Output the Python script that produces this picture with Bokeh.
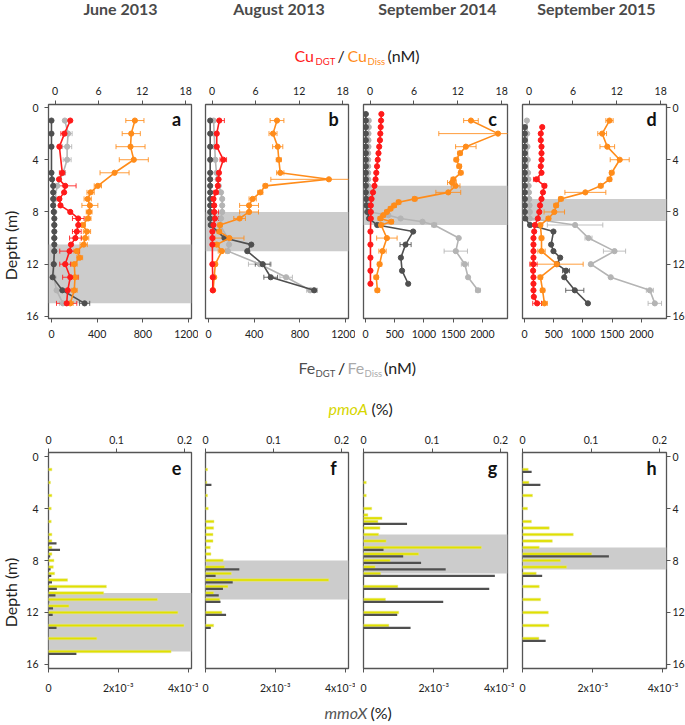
from math import pi
from bokeh.plotting import figure
from bokeh.models import (Range1d, LinearAxis, FixedTicker, BoxAnnotation, Whisker,
                          TeeHead, ColumnDataSource, Label)
from bokeh.layouts import row, column
from bokeh.embed import file_html
from bokeh.resources import INLINE
from bokeh.core.properties import value

# ---------------- data ----------------
YEARS = ["June 2013", "August 2013", "September 2014", "September 2015"]
LETTERS_TOP = ["a", "b", "c", "d"]
LETTERS_BOT = ["e", "f", "g", "h"]
CU_TICKS = [0, 6, 12, 18]
FE_TICKS = [[0, 400, 800, 1200], [0, 400, 800, 1200],
            [0, 500, 1000, 1500, 2000], [0, 500, 1000, 1500, 2000]]
DEPTH_TICKS = [0, 4, 8, 12, 16]
PMOA_TICKS = [0, 0.1, 0.2]
PMOA_LABELS = ["0", "0.1", "0.2"]
MMOX_TICKS = [0, 0.002, 0.004]
MMOX_LABELS = ["0", "2x10\u207b\u00b3", "4x10\u207b\u00b3"]
SHADE_TOP = [10.5, 8.0, 6.0, 7.0]
SHADE_BOTTOM = [15.0, 11.0, 9.0, 8.7]

# panel a (June 2013)
A_CU_DGT_D = [1, 2, 3, 5, 5.5, 6, 6.5, 7, 7.5, 8, 8.5, 9, 9.5, 10, 10.5, 11, 12, 13, 14, 15]
A_CU_DGT = [2.1, 1.3, 0.6, 1.0, 0.55, 1.4, 1.25, 0.6, 0.75, 2.1, 3.2, 3.2, 3.0, 2.8, 2.2, 2.0, 1.4, 2.1, 1.75, 1.6]
A_CU_DGT_E = [0, 0.5, 0, 0.4, 0, 1.5, 0, 0, 0, 0, 0.8, 0, 0.6, 0.8, 0, 1.35, 0.75, 1.05, 0, 1.4]
A_CU_DISS_D = [1, 2, 3, 4, 5, 6, 6.5, 7, 7.5, 8, 8.5, 9, 9.5, 10, 10.5, 11, 11.5, 12, 13, 14, 15]
A_CU_DISS = [11.0, 10.5, 10.4, 10.85, 8.2, 5.9, 4.9, 4.5, 4.8, 4.7, 4.55, 3.8, 4.4, 4.15, 3.95, 3.0, 3.4, 2.65, 2.75, 2.65, 2.1]
A_CU_DISS_E = [1.25, 1.25, 2.0, 2.0, 2.0, 0.5, 0.5, 0.5, 1.1, 0.4, 0.4, 0.4, 0.5, 0.5, 0.5, 0.4, 0.4, 0.4, 0.5, 0.4, 0.4]
A_FE_DGT_D = [1, 2, 3, 5, 5.5, 6, 6.5, 7, 7.5, 8, 8.5, 9, 9.5, 10, 10.5, 11, 12, 13, 14, 15]
A_FE_DGT = [0, 0, 0, 0, 5, 15, 15, 15, 15, 20, 25, 25, 25, 25, 25, 25, 20, 10, 95, 290]
A_FE_DGT_E = [0, 0, 0, 0, 0, 0, 0, 0, 0, 0, 0, 0, 0, 0, 0, 0, 0, 0, 0, 45]
A_FE_DISS_D = [1, 2, 3, 4, 5, 6, 7, 8, 9, 10, 11, 12, 13, 14, 15]
A_FE_DISS = [117, 146, 137, 137, 102, 50, 30, 25, 25, 25, 25, 20, 20, 45, 100]
A_FE_DISS_E = [0, 35, 40, 35, 0, 0, 0, 0, 0, 0, 0, 0, 0, 0, 30]

# panel b (August 2013)
B_CU_DGT_D = [1, 2, 3, 4, 5, 5.5, 6, 6.5, 7, 7.5, 8, 8.5, 9, 9.5, 10, 10.5, 12, 13, 14]
B_CU_DGT = [1.0, 0.65, 0.65, 1.55, 0.95, 0.9, 0.8, 0.55, 0.2, 0.3, 0.3, 0.4, 0.2, 0.05, 0.05, 0.05, 0.05, 0.1, 0.1]
B_CU_DGT_E = [0.7, 0, 0, 0.45, 0, 0, 0, 0.3, 0, 0, 0.6, 0.5, 0, 0, 0, 0, 0, 0, 0]
B_CU_DISS_D = [1, 2, 3, 4, 5, 5.5, 6, 6.5, 7, 7.5, 8, 8.5, 9, 9.5, 10, 10.5, 11, 12, 13, 14]
B_CU_DISS = [8.95, 8.4, 9.05, 9.2, 9.4, 16.1, 7.35, 6.65, 5.6, 5.1, 5.1, 3.8, 1.1, 1.0, 2.4, 0.65, 1.35, 0.45, 0.3, 0.15]
B_CU_DISS_E = [0.95, 0.55, 0.7, 0.35, 0.5, 8.0, 0.3, 0.35, 0.5, 1.3, 1.3, 0.8, 0.3, 0.3, 2.0, 0.3, 0.5, 0.2, 0.2, 0.2]
B_FE_DGT_D = [1, 2, 3, 4, 5, 5.5, 6, 6.5, 7, 7.5, 8, 8.5, 9, 10, 10.5, 11, 12, 13, 14]
B_FE_DGT = [15, 15, 15, 15, 15, 15, 15, 15, 15, 15, 15, 15, 20, 140, 375, 340, 475, 545, 925]
B_FE_DGT_E = [0, 0, 0, 0, 0, 0, 0, 0, 0, 0, 0, 0, 0, 0, 0, 0, 65, 60, 25]
B_FE_DISS_D = [1, 2, 3, 4, 5, 5.5, 6, 6.5, 7, 7.5, 8, 8.5, 9, 10, 10.5, 11, 12, 13, 14]
B_FE_DISS = [45, 50, 55, 60, 70, 80, 90, 110, 120, 120, 120, 110, 100, 170, 180, 170, 450, 680, 890]
B_FE_DISS_E = [0, 0, 0, 0, 0, 0, 0, 0, 0, 0, 0, 0, 0, 0, 0, 0, 100, 55, 30]

# panel c (September 2014)
C_CU_DGT_D = [0.5, 1, 1.5, 2, 2.5, 3, 3.5, 4, 4.5, 5, 5.5, 6, 6.5, 7, 7.5, 8, 8.5, 9.5, 10.5, 11.5, 12.5, 13.5]
C_CU_DGT = [1.55, 1.5, 1.45, 1.4, 1.35, 1.25, 1.15, 1.05, 0.95, 0.85, 0.75, 0.6, 0.4, 0.2, 0.1, 0.1, 0.1, 0.05, 0.05, 0.05, 0.05, 0.05]
C_CU_DGT_E = [0] * 22
C_CU_DISS_D = [1, 2, 3, 3.5, 4, 4.5, 5, 5.5, 5.75, 6, 6.5, 7, 7.25, 7.5, 7.75, 8, 8.25, 8.5, 8.75, 9, 10, 11, 12, 13, 14]
C_CU_DISS = [13.8, 17.5, 13.1, 12.3, 11.8, 12.2, 12.4, 11.4, 11.2, 11.7, 10.7, 6.1, 3.9, 3.3, 2.8, 2.3, 1.8, 1.4, 2.9, 1.5, 2.3, 1.7, 1.3, 0.85, 1.0]
C_CU_DISS_E = [1.0, 8.1, 1.4, 0.3, 0.3, 0.3, 0.3, 0.3, 0.6, 0.6, 1.7, 0.3, 0.3, 0.3, 0.3, 0.3, 0.3, 0.3, 0.3, 0.3, 1.4, 0.5, 0.3, 0.3, 0.3]
C_FE_DGT_D = [0.5, 1, 1.5, 2, 2.5, 3, 3.5, 4, 4.5, 5, 5.5, 6, 6.5, 7, 7.5, 8, 8.5, 9, 9.5, 10.5, 11.5, 12.5, 13.5]
C_FE_DGT = [5, 5, 5, 5, 5, 5, 5, 5, 5, 5, 5, 5, 5, 10, 15, 30, 60, 200, 815, 685, 605, 625, 730]
C_FE_DGT_E = [0, 0, 0, 0, 0, 0, 0, 0, 0, 0, 0, 0, 0, 0, 0, 0, 0, 0, 0, 95, 0, 0, 0]
C_FE_DISS_D = [1, 1.5, 2, 2.5, 3, 3.5, 4, 4.5, 5, 5.5, 6, 6.5, 7, 7.5, 8, 8.25, 8.5, 8.75, 9, 10, 11, 12, 13, 14]
C_FE_DISS = [55, 55, 50, 50, 50, 45, 45, 45, 45, 45, 45, 45, 45, 50, 80, 390, 600, 975, 1175, 1595, 1545, 1700, 1755, 1925]
C_FE_DISS_E = [0, 0, 0, 0, 0, 0, 0, 0, 0, 0, 0, 0, 0, 0, 0, 0, 0, 0, 40, 0, 200, 60, 0, 40]

# panel d (September 2015)
D_CU_DGT_D = [1.5, 2, 2.5, 3, 3.5, 4, 4.5, 5, 5.5, 6, 6.5, 7, 7.5, 8, 8.5, 9, 9.5, 10, 10.5, 11, 11.5, 12, 12.5, 13, 13.5, 14, 14.5, 15]
D_CU_DGT = [1.8, 1.6, 1.6, 1.7, 1.7, 1.7, 1.6, 1.7, 1.0, 2.1, 1.9, 1.7, 1.5, 1.4, 1.2, 0.8, 0.7, 0.6, 0.6, 0.6, 0.6, 0.6, 0.55, 0.6, 0.6, 0.6, 0.65, 1.1]
D_CU_DGT_E = [0, 0, 0, 0, 0, 0, 0, 0, 0.4, 0.3, 0, 0, 0, 0, 0, 0, 0, 0, 0, 0, 0, 0.5, 0, 0, 0, 0, 0, 0.6]
D_CU_DISS_D = [1, 2, 3, 4, 5, 5.5, 6, 6.5, 7, 7.5, 8, 8.5, 9, 10, 11, 12, 13, 14, 15]
D_CU_DISS = [11.0, 10.0, 10.7, 12.4, 11.3, 11.0, 9.8, 7.7, 4.35, 3.7, 3.45, 2.65, 1.55, 1.7, 1.7, 3.8, 1.55, 1.85, 2.1]
D_CU_DISS_E = [0.5, 0.6, 1.0, 1.3, 0.3, 0.3, 0.3, 2.8, 0.3, 0.3, 1.4, 0.3, 0.3, 0.3, 0.5, 3.6, 0.3, 0.3, 0.4]
D_FE_DGT_D = [1.5, 2, 2.5, 3, 3.5, 4, 4.5, 5, 5.5, 6, 6.5, 7, 7.5, 8, 8.5, 9, 9.5, 10.5, 11, 11.5, 12, 12.5, 13, 14, 15]
D_FE_DGT = [5, 5, 5, 5, 5, 5, 5, 5, 5, 5, 5, 5, 5, 5, 10, 95, 495, 455, 495, 610, 555, 710, 680, 860, 1085]
D_FE_DGT_E = [0, 0, 0, 0, 0, 0, 0, 0, 0, 0, 0, 0, 0, 0, 0, 0, 0, 0, 0, 0, 40, 60, 0, 155, 0]
D_FE_DISS_D = [1, 2, 3, 4, 5, 5.5, 6, 6.5, 7, 7.5, 8, 8.5, 9, 10, 11, 12, 13, 14, 15]
D_FE_DISS = [40, 45, 50, 55, 60, 65, 70, 75, 80, 85, 90, 90, 865, 1095, 1540, 1135, 1475, 2145, 2230]
D_FE_DISS_E = [0, 0, 0, 0, 0, 0, 0, 0, 0, 0, 0, 0, 475, 60, 190, 0, 0, 60, 115]

# bottom panels: pmoA (%) and mmoX (%) per depth
E_D = [1, 2, 3, 4, 5, 6, 6.5, 7, 7.5, 8, 8.5, 9, 9.5, 10, 10.5, 11, 11.5, 12, 13, 14, 15]
E_PMOA = [0.005, 0.003, 0.005, 0.004, 0.004, 0.005, 0.005, 0.005, 0.005, 0.008, 0.007, 0.009, 0.028, 0.085, 0.081, 0.16, 0.030, 0.19, 0.199, 0.071, 0.18]
E_MMOX = [0, 0, 0, 0, 0, 0, 0.00023, 0.00033, 0.00005, 0, 0.00006, 0.00008, 0.0001, 0.00024, 0.0002, 0.00002, 0.00013, 0.00012, 0.00023, 0, 0.0008]
F_D = [1, 2, 3, 4, 5, 5.5, 6, 6.5, 7, 7.5, 8, 8.5, 9, 9.5, 10, 10.5, 11, 12, 13]
F_PMOA = [0.003, 0.002, 0.003, 0.004, 0.0125, 0.012, 0.011, 0.011, 0.007, 0.008, 0.026, 0.028, 0.038, 0.181, 0.033, 0.012, 0.021, 0.024, 0.012]
F_MMOX = [0, 0.00017, 0, 0, 0, 0, 0, 0, 0, 0, 0, 0.00097, 0.00029, 0.00078, 0.0005, 0.00038, 0.00043, 0.00059, 0.00015]
G_D = [2, 3, 4, 4.5, 4.75, 5, 5.5, 6, 6.5, 7, 7.5, 8, 8.5, 9, 10, 11, 12, 13]
G_PMOA = [0.004, 0.004, 0.012, 0.0064, 0.027, 0.021, 0.024, 0.022, 0.033, 0.172, 0.0805, 0.039, 0.017, 0.025, 0.05, 0.032, 0.0514, 0.037]
G_MMOX = [0, 0, 0, 0, 0, 0.00124, 0, 0, 0, 0.00057, 0.00113, 0.00164, 0.00234, 0.00374, 0.00358, 0.00227, 0.00096, 0.00134]
H_D = [1, 2, 3, 4, 5, 5.5, 6, 6.5, 7, 7.5, 8, 8.5, 9, 10, 11, 12, 13, 14]
H_PMOA = [0.0083, 0.0093, 0.0146, 0.0073, 0.013, 0.039, 0.074, 0.0435, 0.0244, 0.101, 0.0556, 0.0644, 0.02, 0.0244, 0.0264, 0.0376, 0.0386, 0.0239]
H_MMOX = [0.00026, 0.00051, 0, 0, 0, 0, 0, 0, 0, 0.00246, 0, 0, 0.00056, 0, 0, 0, 0, 0.00066]

# ---------------- style / layout ----------------
FONT = "Lato"
RED = "#ff1a1a"
ORANGE = "#ff8c1a"
DARK = "#4f4f4f"
LIGHT = "#b4b4b4"
YELLOW = "#e0e000"
SHADE = "#cccccc"
AX = "#555555"
TXT = "#222222"

CU_RANGE = (-0.9, 18.8)
FE_RANGES = [(-26, 1226), (-26, 1226), (-35, 2430), (-35, 2430)]
PMOA_RANGE = (0, 0.21)
MMOX_RANGE = (0, 0.0041)
FRAME_W = [143, 143, 144, 144]
BORDER_L = [24, 7, 8, 8]
BORDER_R = [7, 7, 7, 20]
TOTAL_W = 685
LAB_W = 23

TOP = dict(
    cu_dgt=[(A_CU_DGT_D, A_CU_DGT, A_CU_DGT_E), (B_CU_DGT_D, B_CU_DGT, B_CU_DGT_E),
            (C_CU_DGT_D, C_CU_DGT, C_CU_DGT_E), (D_CU_DGT_D, D_CU_DGT, D_CU_DGT_E)],
    cu_diss=[(A_CU_DISS_D, A_CU_DISS, A_CU_DISS_E), (B_CU_DISS_D, B_CU_DISS, B_CU_DISS_E),
             (C_CU_DISS_D, C_CU_DISS, C_CU_DISS_E), (D_CU_DISS_D, D_CU_DISS, D_CU_DISS_E)],
    fe_dgt=[(A_FE_DGT_D, A_FE_DGT, A_FE_DGT_E), (B_FE_DGT_D, B_FE_DGT, B_FE_DGT_E),
            (C_FE_DGT_D, C_FE_DGT, C_FE_DGT_E), (D_FE_DGT_D, D_FE_DGT, D_FE_DGT_E)],
    fe_diss=[(A_FE_DISS_D, A_FE_DISS, A_FE_DISS_E), (B_FE_DISS_D, B_FE_DISS, B_FE_DISS_E),
             (C_FE_DISS_D, C_FE_DISS, C_FE_DISS_E), (D_FE_DISS_D, D_FE_DISS, D_FE_DISS_E)],
)
BOT = [(E_D, E_PMOA, E_MMOX), (F_D, F_PMOA, F_MMOX), (G_D, G_PMOA, G_MMOX), (H_D, H_PMOA, H_MMOX)]


def style_axis(ax, standoff, ticks, overrides=None):
    ax.ticker = FixedTicker(ticks=ticks)
    ax.axis_line_color = None
    ax.major_tick_line_color = AX
    ax.major_tick_line_width = 1
    ax.major_tick_out = 4
    ax.major_tick_in = 0
    ax.minor_tick_line_color = None
    ax.major_label_text_font = FONT
    ax.major_label_text_font_size = "10.5px"
    ax.major_label_text_color = TXT
    ax.major_label_standoff = standoff
    if overrides:
        ax.major_label_overrides = overrides


def base_fig(i, fh, bt, bb, xr, yr):
    p = figure(frame_width=FRAME_W[i], frame_height=fh, min_border_left=BORDER_L[i],
               min_border_right=BORDER_R[i], min_border_top=bt, min_border_bottom=bb,
               x_range=Range1d(*xr), y_range=Range1d(*yr), x_axis_location=None,
               y_axis_location=None, output_backend="svg", toolbar_location=None, title=None)
    p.outline_line_color = AX
    p.outline_line_width = 1.3
    p.background_fill_color = "white"
    p.border_fill_color = "white"
    p.grid.grid_line_color = None
    if i == 0:
        la = LinearAxis()
        style_axis(la, 6, DEPTH_TICKS)
        p.add_layout(la, "left")
    if i == 3:
        ra = LinearAxis()
        style_axis(ra, 2, DEPTH_TICKS)
        p.add_layout(ra, "right")
    return p


def add_series(p, series, color, rname=None):
    depths, vals, errs = series
    kw = {} if rname is None else {"x_range_name": rname}
    bs = [d for d, e in zip(depths, errs) if e > 0]
    if bs:
        lo = [v - e for v, e in zip(vals, errs) if e > 0]
        hi = [v + e for v, e in zip(vals, errs) if e > 0]
        src = ColumnDataSource(dict(base=bs, lower=lo, upper=hi))
        w = Whisker(source=src, base="base", lower="lower", upper="upper", dimension="width",
                    line_color=color, line_width=1, line_alpha=0.85, level="underlay",
                    upper_head=TeeHead(size=5, line_color=color, line_width=1, line_alpha=0.85),
                    lower_head=TeeHead(size=5, line_color=color, line_width=1, line_alpha=0.85),
                    **kw)
        p.add_layout(w)
    p.line(x=vals, y=depths, line_color=color, line_width=1.6, **kw)
    p.scatter(x=vals, y=depths, size=5.2, fill_color=color, line_color=color, **kw)


def top_panel(i):
    p = base_fig(i, 214, 34, 30, FE_RANGES[i], (16.16, -0.23))
    p.extra_x_ranges = {"cu": Range1d(*CU_RANGE)}
    ta = LinearAxis(x_range_name="cu")
    style_axis(ta, 6, CU_TICKS)
    p.add_layout(ta, "above")
    ba = LinearAxis()
    style_axis(ba, 7, FE_TICKS[i])
    p.add_layout(ba, "below")
    p.add_layout(BoxAnnotation(top=SHADE_TOP[i], bottom=SHADE_BOTTOM[i], fill_color=SHADE,
                               fill_alpha=1, line_color=None, level="underlay"))
    add_series(p, TOP["fe_diss"][i], LIGHT)
    add_series(p, TOP["fe_dgt"][i], DARK)
    add_series(p, TOP["cu_diss"][i], ORANGE, "cu")
    add_series(p, TOP["cu_dgt"][i], RED, "cu")
    p.add_layout(Label(x=FE_RANGES[i][1], y=0.85, x_offset=-15, text=LETTERS_TOP[i],
                       text_align="center", text_baseline="middle", text_font=FONT,
                       text_font_size="18px", text_font_style="bold", text_color="#111111"))
    return p


def bottom_panel(i):
    p = base_fig(i, 216, 32, 28, MMOX_RANGE, (16.31, -0.31))
    p.extra_x_ranges = {"pmo": Range1d(*PMOA_RANGE)}
    ta = LinearAxis(x_range_name="pmo")
    style_axis(ta, 5, PMOA_TICKS, dict(zip(PMOA_TICKS, PMOA_LABELS)))
    p.add_layout(ta, "above")
    ba = LinearAxis()
    style_axis(ba, 9, MMOX_TICKS, dict(zip(MMOX_TICKS, MMOX_LABELS)))
    p.add_layout(ba, "below")
    p.add_layout(BoxAnnotation(top=SHADE_TOP[i], bottom=SHADE_BOTTOM[i], fill_color=SHADE,
                               fill_alpha=1, line_color=None, level="underlay"))
    depths, pmo, mmo = BOT[i]
    yd = [d for d, v in zip(depths, pmo) if v > 0]
    yv = [v for v in pmo if v > 0]
    p.hbar(y=yd, left=0, right=yv, height=0.2, fill_color=YELLOW, line_color="#e6e68a",
           line_width=0.5, x_range_name="pmo")
    md = [d + 0.18 for d, v in zip(depths, mmo) if v > 0]
    mv = [v for v in mmo if v > 0]
    p.hbar(y=md, left=0, right=mv, height=0.17, fill_color=DARK, line_color=None)
    p.add_layout(Label(x=MMOX_RANGE[1], y=0.9, x_offset=-15, text=LETTERS_BOT[i],
                       text_align="center", text_baseline="middle", text_font=FONT,
                       text_font_size="18px", text_font_style="bold", text_color="#111111"))
    return p


def text_fig(w, h):
    p = figure(frame_width=w, frame_height=h, min_border=0, x_range=Range1d(0, w),
               y_range=Range1d(h, 0), x_axis_location=None, y_axis_location=None,
               output_backend="svg", toolbar_location=None, title=None)
    p.outline_line_color = None
    p.grid.grid_line_color = None
    return p


def put(p, x, y, s, color, size, style="normal", align="left", angle=0.0):
    p.text(x=[x], y=[y], text=[s], text_color=color, text_font=value(FONT),
           text_font_size=value(size), text_font_style=value(style), text_align=value(align),
           text_baseline=value("middle"), angle=angle)


MAIN, SUB = "16px", "9.5px"

# header (page y 0-70): years + Cu title  (y = vertical centre of text)
hdr = text_fig(TOTAL_W, 70)
for xc, yr in zip([120, 278.5, 437, 596], YEARS):
    put(hdr, xc, 8, yr, "#4a4a4a", "16px", "bold", "center")
for x, s, col, size, yc in [(294, "Cu", RED, MAIN, 55), (315, "DGT", RED, SUB, 61),
                            (337, "/", TXT, MAIN, 55), (347, "Cu", ORANGE, MAIN, 55),
                            (367, "Diss", ORANGE, SUB, 61), (387, "(nM)", TXT, MAIN, 55)]:
    put(hdr, x, yc, s, col, size)

# middle (page y 348-420): Fe title + pmoA title
mid = text_fig(TOTAL_W, 72)
for x, s, col, size, yc in [(298, "Fe", DARK, MAIN, 19), (315, "DGT", DARK, SUB, 25),
                            (337.5, "/", TXT, MAIN, 19), (347, "Fe", "#aaaaaa", MAIN, 19),
                            (364, "Diss", "#aaaaaa", SUB, 25), (383.5, "(nM)", TXT, MAIN, 19)]:
    put(mid, x, yc, s, col, size)
put(mid, 328, 60, "pmoA", "#d6d600", MAIN, "italic")
put(mid, 371, 60, "(%)", TXT, MAIN)

# footer (page y 696-725): mmoX title
ftr = text_fig(TOTAL_W, 29)
put(ftr, 324, 16, "mmoX", "#555555", MAIN, "italic")
put(ftr, 370, 16, "(%)", TXT, MAIN)

# depth labels
lab_top = text_fig(LAB_W, 278)
put(lab_top, 10, 141, "Depth (m)", TXT, "16px", align="center", angle=pi / 2)
lab_bot = text_fig(LAB_W, 276)
put(lab_bot, 10, 140, "Depth (m)", TXT, "16px", align="center", angle=pi / 2)

top_row = row(lab_top, *[top_panel(i) for i in range(4)])
bot_row = row(lab_bot, *[bottom_panel(i) for i in range(4)])
layout = column(hdr, top_row, mid, bot_row, ftr)

open("out.html", "w").write(file_html(layout, INLINE))
